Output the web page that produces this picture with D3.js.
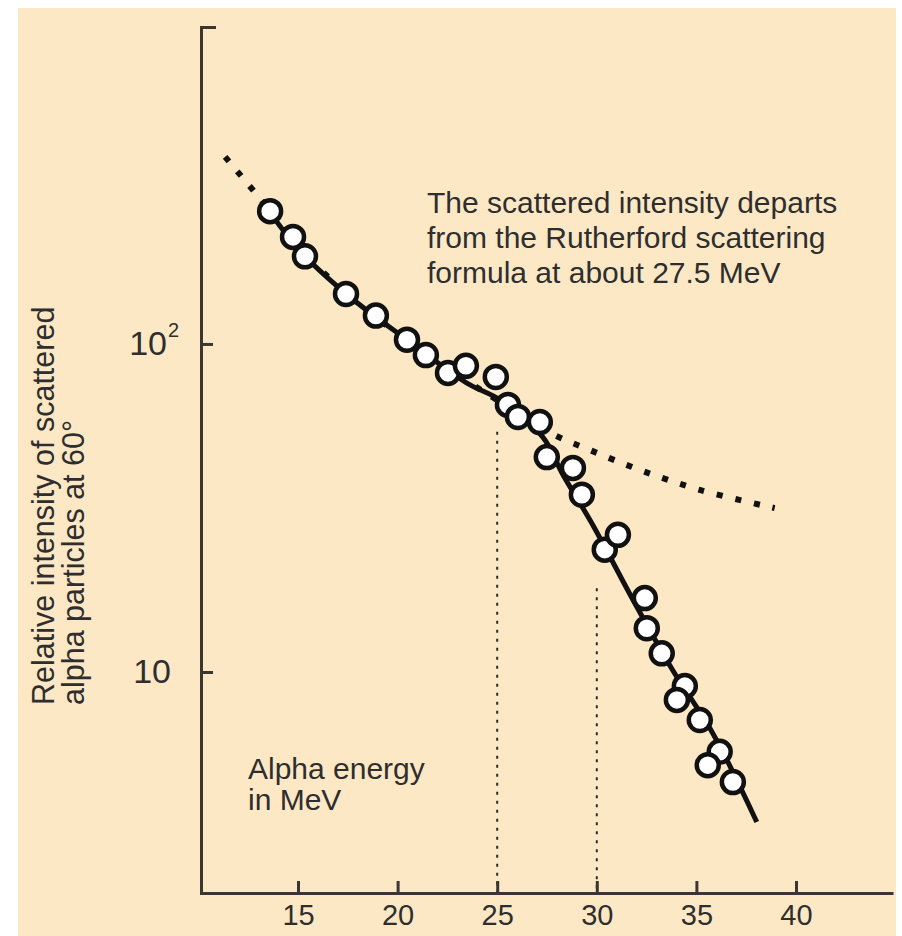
<!DOCTYPE html>
<html>
<head>
<meta charset="utf-8">
<script src="https://cdn.jsdelivr.net/npm/d3@7"></script>
<style>
  body { margin: 0; background: #fff; }
  svg text { font-family: "Liberation Sans", Arial, Helvetica, sans-serif; fill: #2e2e2e; }
</style>
</head>
<body>
<div id="chart"></div>
<script>
// measured points (alpha energy in MeV, relative intensity)
const energy = [13.6, 14.75, 15.35, 17.41, 18.91, 20.47, 21.42, 22.53, 23.43, 24.93,
                25.54, 26.04, 27.14, 27.49, 28.8, 29.25, 30.4, 31.06, 32.41, 32.51,
                33.26, 34.42, 34.02, 35.17, 36.17, 35.57, 36.83];
const intensity = [254, 212, 185, 142, 122, 103, 92.5, 81.6, 85.8, 79.3,
                   65.2, 59.9, 57.8, 45.2, 41.9, 34.7, 23.6, 26.2, 16.8, 13.6,
                   11.4, 9.06, 8.22, 7.14, 5.71, 5.2, 4.62];

// fitted curve through the data (solid)
const fitEnergy = [13.19, 15.1, 17.61, 20.62, 23.48, 25.14, 27.29, 28.3, 29.75, 31.91, 33.82, 35.82, 38.03];
const fitIntensity = [272.9, 192.1, 139.0, 101.4, 76.0, 67.5, 52.0, 39.9, 28.4, 16.2, 10.1, 6.51, 3.49];

// Rutherford prediction (dotted)
const rutherfordEnergy = [11.34, 13.19, 15.1, 17.61, 20.62, 23.48, 25.64, 27.64, 29.65, 32.16, 35.17, 38.93];
const rutherfordIntensity = [371.7, 272.9, 196.4, 139.0, 101.4, 77.1, 63.8, 53.6, 47.5, 41.3, 35.9, 31.6];

// vertical guide lines
const guideEnergy = [25, 30];
const guideTop = [54, 18];

const xTicks = [15, 20, 25, 30, 35, 40];
const yTicks = [10, 100];

const width = 902, height = 936;
const margin = {top: 27, right: 9, bottom: 43, left: 201};

const svg = d3.select("#chart")
  .append("svg")
  .attr("width", width)
  .attr("height", height);

// beige panel
svg.append("rect")
  .attr("x", 18).attr("y", 8)
  .attr("width", 878).attr("height", height - 8)
  .attr("fill", "#fde8c6");

const x = d3.scaleLinear()
  .domain([10.13, 44.87])
  .range([margin.left, width - margin.right]);

const y = d3.scaleLog()
  .domain([2.12, 925])
  .range([height - margin.bottom, margin.top]);

// guides
svg.selectAll(".guide")
  .data(guideEnergy)
  .enter()
  .append("line")
    .attr("class", "guide")
    .attr("x1", d => x(d))
    .attr("x2", d => x(d))
    .attr("y1", (d, i) => y(guideTop[i]))
    .attr("y2", y.range()[0])
    .attr("stroke", "#2a2a2a")
    .attr("stroke-width", 2)
    .attr("stroke-dasharray", "3,6");

const line = d3.line()
  .x(d => x(d[0]))
  .y(d => y(d[1]))
  .curve(d3.curveCatmullRom);

// dotted Rutherford curve
svg.append("path")
  .datum(d3.zip(rutherfordEnergy, rutherfordIntensity))
  .attr("d", line)
  .attr("fill", "none")
  .attr("stroke", "#111")
  .attr("stroke-width", 6)
  .attr("stroke-dasharray", "6,13");

// solid fit
svg.append("path")
  .datum(d3.zip(fitEnergy, fitIntensity))
  .attr("d", line)
  .attr("fill", "none")
  .attr("stroke", "#111")
  .attr("stroke-width", 5);

// axes
const xAxis = svg.append("g")
  .attr("transform", `translate(0,${height - margin.bottom})`)
  .call(d3.axisBottom(x).tickValues(xTicks).tickSizeInner(-12).tickSizeOuter(0).tickPadding(11))
  .attr("font-size", "29px");

const yAxis = svg.append("g")
  .attr("transform", `translate(${margin.left},0)`)
  .call(d3.axisLeft(y).tickValues(yTicks).tickFormat(d => "10").tickSizeInner(-12).tickSizeOuter(-15).tickPadding(30))
  .attr("font-size", "34px");

svg.selectAll(".domain, .tick line")
  .attr("stroke", "#3a3631")
  .attr("stroke-width", 3);
svg.selectAll(".tick text").attr("fill", "#2e2e2e");

// superscript on 10^2
yAxis.selectAll(".tick")
  .filter(d => d === 100)
  .each(function() {
    d3.select(this).select("text").attr("x", -34);
    d3.select(this).append("text")
      .attr("x", -33)
      .attr("y", -7)
      .attr("font-size", "20px")
      .attr("text-anchor", "start")
      .attr("fill", "#2e2e2e")
      .text("2");
  });

// data points
svg.selectAll("circle")
  .data(d3.zip(energy, intensity))
  .enter()
  .append("circle")
    .attr("cx", d => x(d[0]))
    .attr("cy", d => y(d[1]))
    .attr("r", 11)
    .attr("fill", "#fff")
    .attr("stroke", "#111")
    .attr("stroke-width", 4.5);

// y axis title
const title = svg.append("text")
  .attr("transform", "translate(54,705) rotate(-90)")
  .attr("font-size", "30.5px");
title.append("tspan").attr("x", 0).attr("y", 0).text("Relative intensity of scattered");
title.append("tspan").attr("x", 0).attr("y", 30).text("alpha particles at 60°");

// annotation
const note = svg.append("text").attr("font-size", "30px");
["The scattered intensity departs",
 "from the Rutherford scattering",
 "formula at about 27.5 MeV"].forEach((t, i) => {
  note.append("tspan").attr("x", 427).attr("y", 213 + i * 35).text(t);
});

const xlab = svg.append("text").attr("font-size", "30px");
xlab.append("tspan").attr("x", 248).attr("y", 779).text("Alpha energy");
xlab.append("tspan").attr("x", 248).attr("y", 810).text("in MeV");
</script>
</body>
</html>
